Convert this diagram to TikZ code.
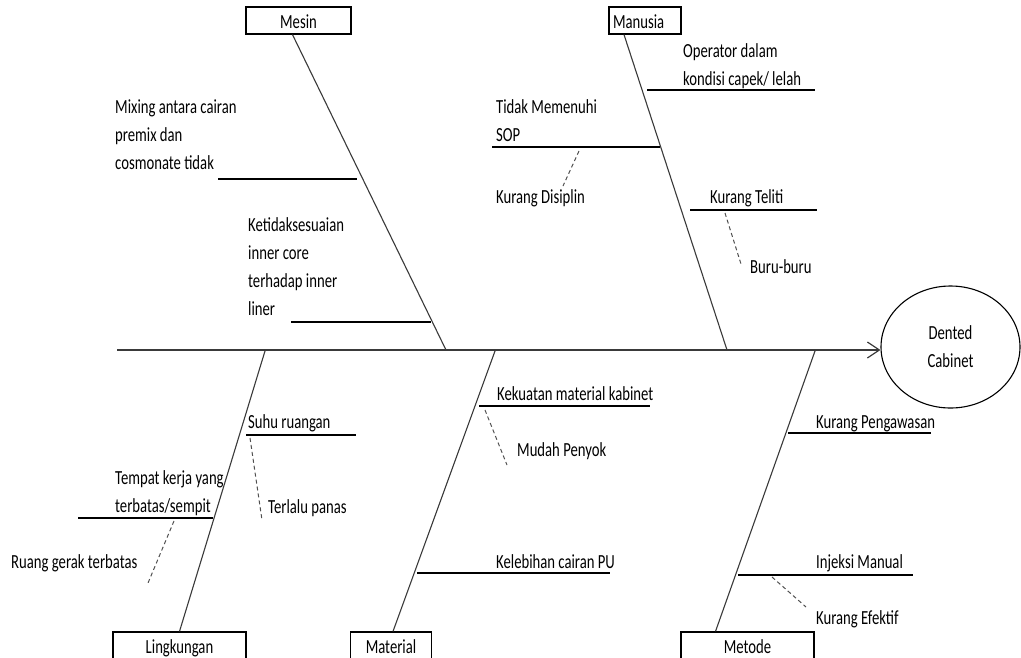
\documentclass[tikz,border=0pt]{standalone}
\usepackage{fontspec}
\setmainfont{Carlito}[FakeStretch=0.735]
\usetikzlibrary{arrows.meta,positioning,shapes.geometric}
\definecolor{bonegray}{HTML}{3A3A3A}
\definecolor{dashgray}{HTML}{505050}
\newcommand{\fishfont}{\fontsize{20}{28}\selectfont}
\tikzset{
  catbox/.style={draw=black, line width=1.2pt, fill=white, inner xsep=4pt, inner ysep=4pt, text height=17pt, font=\fishfont, anchor=base},
  catboxtop/.style={catbox, text depth=2pt},
  catboxbot/.style={catbox, text depth=30pt},
  cause/.style={anchor=base west, inner sep=0pt, align=left, font=\fishfont},
  spine/.style={line width=1.3pt, draw=bonegray, -{Straight Barb[length=12pt,width=16pt,line width=1.2pt]}},
  bone/.style={line width=1.1pt, draw=bonegray},
  subbone/.style={line width=1.4pt, draw=black},
  subdash/.style={line width=1pt, draw=dashgray, dash pattern=on 4pt off 3pt},
}

\begin{document}
\begin{tikzpicture}[x=1pt,y=-1pt]
  \useasboundingbox (0,0) rectangle (1021,657);
  \clip (0,0) rectangle (1021,657);
  \fill[white] (0,0) rectangle (1021,657);

  % head of the fish
  \node[draw, ellipse, line width=1.1pt, minimum width=139pt, minimum height=122pt, inner sep=0pt, align=center, font=\fishfont] (effect) at (950.5,347) {Dented\\Cabinet};
  \coordinate (tail) at (117,350);
  \draw[spine] (tail) -- (effect.west |- tail);

  % categories
  \node[catboxtop, minimum width=105pt] (mesin) at (298.5,28) {Mesin};
  \node[catboxtop, minimum width=72pt, text width=64pt, align=left] (manusia) at (645,28) {Manusia};
  \node[catboxbot, minimum width=133pt] (lingkungan) at (179.5,653) {Lingkungan};
  \node[catboxbot, minimum width=81pt] (material) at (391,653) {Material};
  \node[catboxbot, minimum width=133pt] (metode) at (747.5,653) {Metode};

  \coordinate (mesinEnd) at (446,350);
  \coordinate (manusiaEnd) at (727,350);
  \coordinate (lingkunganEnd) at (265,351);
  \coordinate (materialEnd) at (495,351);
  \coordinate (metodeEnd) at (815,351);
  \draw[bone] ([xshift=-6pt]mesin.south) -- (mesinEnd);
  \draw[bone] ([xshift=-21pt]manusia.south) -- (manusiaEnd);
  \draw[bone] (lingkungan.north) -- (lingkunganEnd);
  \draw[bone] ([xshift=2pt]material.north) -- (materialEnd);
  \draw[bone] ([xshift=-32pt]metode.north) -- (metodeEnd);

  % Mesin (multi-line labels sit on their last line)
  \node[cause] (mixing) at (115,169) {Mixing antara cairan\\premix dan\\cosmonate tidak};
  \node[cause] (ketidak) at (248,315) {Ketidaksesuaian\\inner core\\terhadap inner\\liner};
  \coordinate (mx1) at (218,179); \coordinate (mx2) at (357,179);
  \coordinate (kt1) at (291,322); \coordinate (kt2) at (431,322);
  \draw[subbone] (mx1) -- (mx2);
  \draw[subbone] (kt1) -- (kt2);

  % Manusia
  \node[cause] (operator) at (683,85) {Operator dalam\\kondisi capek/ lelah};
  \node[cause] (sop) at (496,141) {Tidak Memenuhi\\SOP};
  \node[cause] (disiplin) at (496,203) {Kurang Disiplin};
  \node[cause] (teliti) at (710,203) {Kurang Teliti};
  \node[cause] (buru) at (750,273) {Buru-buru};
  \coordinate (op1) at (647,90); \coordinate (op2) at (815,90);
  \coordinate (sop1) at (492,147); \coordinate (sop2) at (660,147);
  \coordinate (tel1) at (690,210); \coordinate (tel2) at (817,210);
  \coordinate (dis1) at (579,151); \coordinate (dis2) at (563,186);
  \coordinate (buru1) at (725,213); \coordinate (buru2) at (741,264);
  \draw[subbone] (op1) -- (op2);
  \draw[subbone] (sop1) -- (sop2);
  \draw[subbone] (tel1) -- (tel2);
  \draw[subdash] (dis1) -- (dis2);
  \draw[subdash] (buru1) -- (buru2);

  % Lingkungan
  \node[cause] (suhu) at (248,428) {Suhu ruangan};
  \node[cause] (panas) at (268,513) {Terlalu panas};
  \node[cause] (tempat) at (115,512) {Tempat kerja yang\\terbatas/sempit};
  \node[cause] (gerak) at (11,568) {Ruang gerak terbatas};
  \coordinate (suhu1) at (246,435); \coordinate (suhu2) at (356,435);
  \coordinate (tmp1) at (78,518); \coordinate (tmp2) at (213,518);
  \coordinate (pns1) at (250,438); \coordinate (pns2) at (262,520);
  \coordinate (grk1) at (174,521); \coordinate (grk2) at (148,583);
  \draw[subbone] (suhu1) -- (suhu2);
  \draw[subbone] (tmp1) -- (tmp2);
  \draw[subdash] (pns1) -- (pns2);
  \draw[subdash] (grk1) -- (grk2);

  % Material
  \node[cause] (kekuatan) at (497,400) {Kekuatan material kabinet};
  \node[cause] (penyok) at (517,456) {Mudah Penyok};
  \node[cause] (kelebihan) at (496,568) {Kelebihan cairan PU};
  \coordinate (kek1) at (479,406); \coordinate (kek2) at (650,406);
  \coordinate (pu1) at (417,573); \coordinate (pu2) at (610,573);
  \coordinate (pyk1) at (485,410); \coordinate (pyk2) at (507,465);
  \draw[subbone] (kek1) -- (kek2);
  \draw[subbone] (pu1) -- (pu2);
  \draw[subdash] (pyk1) -- (pyk2);

  % Metode
  \node[cause] (awas) at (816,428) {Kurang Pengawasan};
  \node[cause] (injeksi) at (816,568) {Injeksi Manual};
  \node[cause] (efektif) at (816,624) {Kurang Efektif};
  \coordinate (aws1) at (788,433); \coordinate (aws2) at (931,433);
  \coordinate (inj1) at (738,575); \coordinate (inj2) at (913,575);
  \coordinate (efk1) at (772,577); \coordinate (efk2) at (806,607);
  \draw[subbone] (aws1) -- (aws2);
  \draw[subbone] (inj1) -- (inj2);
  \draw[subdash] (efk1) -- (efk2);
\end{tikzpicture}
\end{document}
